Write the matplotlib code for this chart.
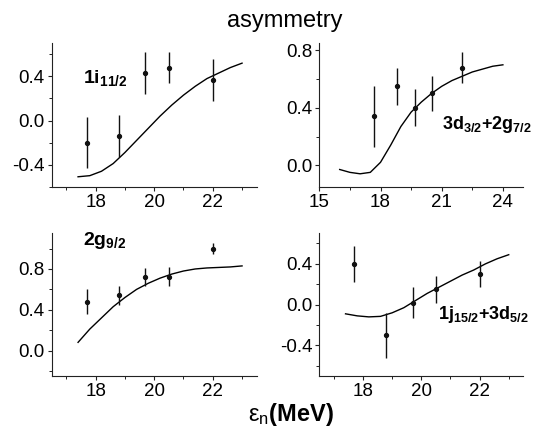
import matplotlib
matplotlib.use("Agg")
from matplotlib import pyplot as plt
from matplotlib.ticker import MultipleLocator

plt.rcParams['font.family'] = ['Liberation Sans', 'DejaVu Sans']
plt.rcParams['mathtext.fontset'] = 'custom'
plt.rcParams['mathtext.rm'] = 'Liberation Sans'
plt.rcParams['mathtext.bf'] = 'Liberation Sans:bold'
plt.rcParams['mathtext.it'] = 'Liberation Sans:italic'

# measured points (same energies in every panel)
energy = [17.7, 18.8, 19.7, 20.5, 22.0]

asym_1i = [-0.20, -0.14, 0.43, 0.48, 0.37]
err_1i = [0.23, 0.19, 0.19, 0.14, 0.19]

asym_3d2g = [0.34, 0.55, 0.40, 0.50, 0.68]
err_3d2g = [0.21, 0.13, 0.13, 0.12, 0.11]

asym_2g = [0.48, 0.54, 0.72, 0.725, 1.00]
err_2g = [0.12, 0.09, 0.09, 0.09, 0.05]

asym_1j3d = [0.40, -0.30, 0.02, 0.15, 0.30]
err_1j3d = [0.18, 0.22, 0.15, 0.13, 0.13]

# calculated curves
calc_x = [17.4, 17.8, 18.2, 18.6, 19.0, 19.4, 19.8, 20.2, 20.6, 21.0, 21.4, 21.8, 22.2, 22.6, 23.0]
calc_1i = [-0.51, -0.50, -0.46, -0.39, -0.29, -0.18, -0.07, 0.04, 0.14, 0.23, 0.31, 0.38, 0.43, 0.48, 0.52]
calc_2g = [0.08, 0.21, 0.32, 0.43, 0.52, 0.60, 0.66, 0.71, 0.75, 0.78, 0.80, 0.81, 0.815, 0.82, 0.83]
calc_1j3d = [-0.09, -0.11, -0.12, -0.115, -0.08, -0.03, 0.04, 0.11, 0.17, 0.23, 0.29, 0.34, 0.40, 0.45, 0.49]

calc_x_3d2g = [16.0, 16.5, 17.0, 17.5, 18.0, 18.5, 19.0, 19.5, 20.0, 20.5, 21.0, 21.5, 22.0, 22.5, 23.0, 23.5, 24.0]
calc_3d2g = [-0.03, -0.05, -0.06, -0.05, 0.02, 0.14, 0.27, 0.37, 0.44, 0.50, 0.55, 0.59, 0.62, 0.65, 0.67, 0.69, 0.70]

W, H = 535, 429
fig = plt.figure(figsize=(W / 100, H / 100), dpi=100)


def make_axes(x0, y_top, x1, y_bot):
    return fig.add_axes([x0 / W, 1 - y_bot / H, (x1 - x0) / W, (y_bot - y_top) / H])


def style(ax, xlim, ylim, xmaj, ymaj, xticks=None):
    ax.set_xlim(*xlim)
    ax.set_ylim(*ylim)
    for s in ('top', 'right'):
        ax.spines[s].set_visible(False)
    for s in ('left', 'bottom'):
        ax.spines[s].set_linewidth(0.8)
        ax.spines[s].set_color('#222222')
    ax.xaxis.set_major_locator(MultipleLocator(xmaj))
    ax.xaxis.set_minor_locator(MultipleLocator(xmaj / 2))
    ax.yaxis.set_major_locator(MultipleLocator(ymaj))
    ax.yaxis.set_minor_locator(MultipleLocator(ymaj / 2))
    if xticks is not None:
        ax.set_xticks(xticks)
    ax.yaxis.set_major_formatter(matplotlib.ticker.FormatStrFormatter('%.1f'))
    ax.tick_params(which='major', direction='out', length=3, width=0.8,
                   labelsize=13.5, pad=2, color='#222222')
    ax.tick_params(which='minor', direction='out', length=2, width=0.7,
                   color='#222222')


def panel(ax, y, err, cx, cy, label, lx, ly, size=14):
    ax.plot(cx, cy, color='black', lw=1.0)
    ax.errorbar(energy, y, yerr=err, fmt='o', color='#111111', ms=2.8,
                elinewidth=1.0, capsize=0)
    ax.text(lx, ly, label, transform=ax.transAxes, fontsize=size,
            fontweight='bold', va='baseline', ha='left')


ax1 = make_axes(51.7, 43.3, 256.7, 186.7)
style(ax1, (16.5, 23.5), (-0.6, 0.7), 2, 0.4)
panel(ax1, asym_1i, err_1i, calc_x, calc_1i,
      r'$\mathbf{1i_{11/2}}$', 0.153, 0.72)

ax2 = make_axes(319.3, 43.3, 523.3, 186.7)
style(ax2, (15, 25), (-0.15, 0.85), 3, 0.4, xticks=[15, 18, 21, 24])
ax2.xaxis.set_minor_locator(MultipleLocator(1.5))
panel(ax2, asym_3d2g, err_3d2g, calc_x_3d2g, calc_3d2g,
      r'$\mathbf{3d_{3/2}{+}2g_{7/2}}$', 0.60, 0.40, size=13)

ax3 = make_axes(51.7, 233.3, 256.7, 376)
style(ax3, (16.5, 23.5), (-0.25, 1.15), 2, 0.4)
panel(ax3, asym_2g, err_2g, calc_x, calc_2g,
      r'$\mathbf{2g_{9/2}}$', 0.151, 0.92)

ax4 = make_axes(319.3, 233.3, 523.3, 376)
style(ax4, (16.5, 23.5), (-0.7, 0.7), 2, 0.4)
panel(ax4, asym_1j3d, err_1j3d, calc_x, calc_1j3d,
      r'$\mathbf{1j_{15/2}{+}3d_{5/2}}$', 0.582, 0.40, size=13)

fig.text(285 / W, 1 - 27 / H, 'asymmetry', ha='center', va='baseline', fontsize=17)
fig.text(291 / W, 8 / H, r'$\mathrm{ε}_\mathrm{n}\mathbf{(MeV)}$',
         ha='center', va='baseline', fontsize=17)

fig.savefig('out.png', dpi=100)
